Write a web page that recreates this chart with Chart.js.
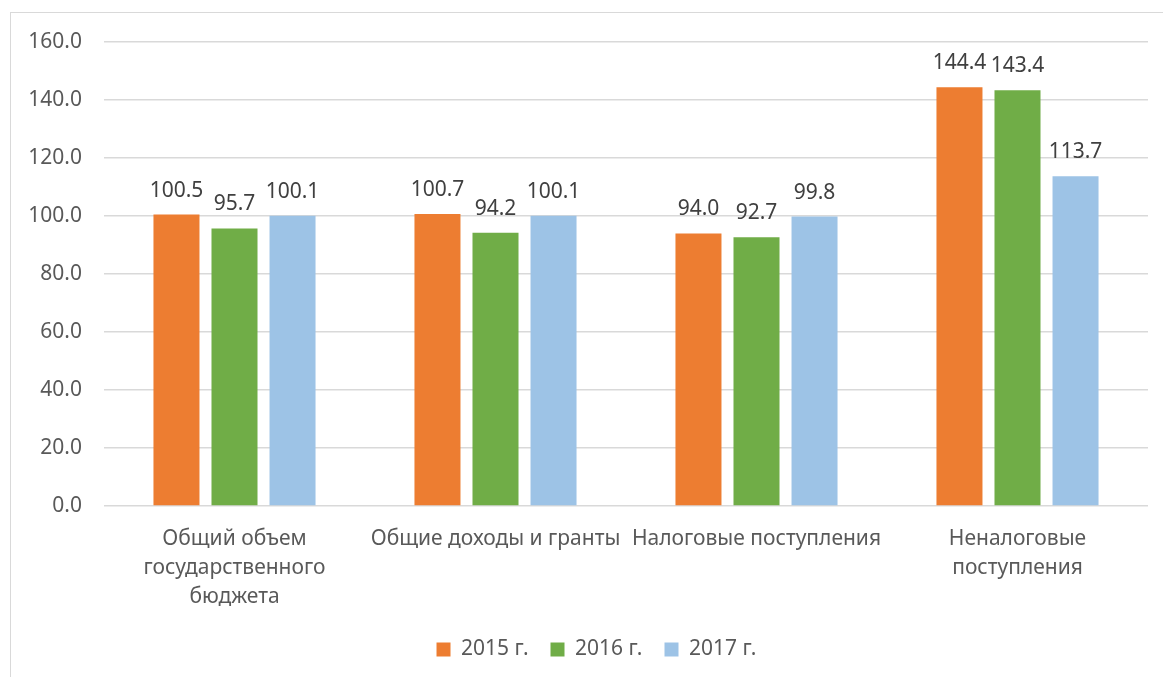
<!DOCTYPE html>
<html>
<head>
<meta charset="utf-8">
<script src="https://cdn.jsdelivr.net/npm/chart.js@4/dist/chart.umd.min.js"></script>
<style>
  html, body { margin: 0; padding: 0; background: #fff; overflow: hidden; }
  .frame {
    position: absolute; left: 10px; top: 12px; width: 1160px; height: 670px;
    border-left: 1px solid #d9d9d9; border-top: 1px solid #d9d9d9;
  }
  .frame canvas { display: block; }
</style>
</head>
<body>
<div class="frame"><canvas id="myChart" width="1152" height="664"></canvas></div>
<script>
// категории и данные
const categories = [
  ['Общий объем', 'государственного', 'бюджета'],
  'Общие доходы и гранты',
  'Налоговые поступления',
  ['Неналоговые', 'поступления']
];
const years = ['2015 г.', '2016 г.', '2017 г.'];
const values2015 = [100.5, 100.7, 94.0, 144.4];
const values2016 = [95.7, 94.2, 92.7, 143.4];
const values2017 = [100.1, 100.1, 99.8, 113.7];
const yTicks = [0, 20, 40, 60, 80, 100, 120, 140, 160];

const FONT = 'Noto Sans';
const SIZE = 21;
const textColor = '#595959';

// подписи над столбцами
const barLabels = {
  id: 'barLabels',
  afterLayout(chart) {
    // легенда в оригинале чуть правее центра
    chart.legend.left += 34;
  },
  afterDatasetsDraw(chart) {
    const ctx = chart.ctx;
    ctx.save();
    ctx.font = SIZE + 'px "' + FONT + '"';
    ctx.fillStyle = '#404040';
    ctx.textAlign = 'center';
    ctx.textBaseline = 'middle';
    chart.data.datasets.forEach((ds, i) => {
      chart.getDatasetMeta(i).data.forEach((bar, j) => {
        ctx.fillText(ds.data[j].toFixed(1), bar.x, bar.y - 24);
      });
    });
    ctx.restore();
  }
};

const datas = {
  labels: categories,
  datasets: [
    { label: years[0], data: values2015, backgroundColor: '#ED7D31' },
    { label: years[1], data: values2016, backgroundColor: '#70AD47' },
    { label: years[2], data: values2017, backgroundColor: '#9DC3E6' }
  ]
};

const config = {
  type: 'bar',
  data: datas,
  options: {
    responsive: false,
    animation: false,
    datasets: { bar: { categoryPercentage: 0.667, barPercentage: 0.793 } },
    layout: { padding: { top: 29, right: 15, left: 0, bottom: 7 } },
    plugins: {
      legend: {
        position: 'bottom',
        labels: {
          color: textColor,
          font: { family: FONT, size: SIZE },
          boxWidth: 14, boxHeight: 14,
          padding: 22
        }
      },
      tooltip: { enabled: false }
    },
    scales: {
      x: {
        grid: { display: false },
        border: { display: false },
        ticks: {
          color: textColor,
          font: { family: FONT, size: SIZE, lineHeight: 1.4 },
          maxRotation: 0, autoSkip: false, padding: 10
        },
        afterFit: (s) => { s.height = 111; }
      },
      y: {
        min: 0, max: 160,
        afterBuildTicks: (s) => { s.ticks = yTicks.map(v => ({ value: v })); },
        grid: { color: '#d9d9d9', lineWidth: 1.5, drawTicks: false },
        border: { display: false },
        ticks: {
          color: textColor,
          font: { family: FONT, size: SIZE },
          padding: 22,
          callback: (v) => v.toFixed(1)
        },
        afterFit: (s) => { s.width = 93; s.paddingTop = 0; s.paddingBottom = 0; }
      }
    }
  },
  plugins: [barLabels]
};

const myChart = new Chart(document.getElementById('myChart'), config);
</script>
</body>
</html>
